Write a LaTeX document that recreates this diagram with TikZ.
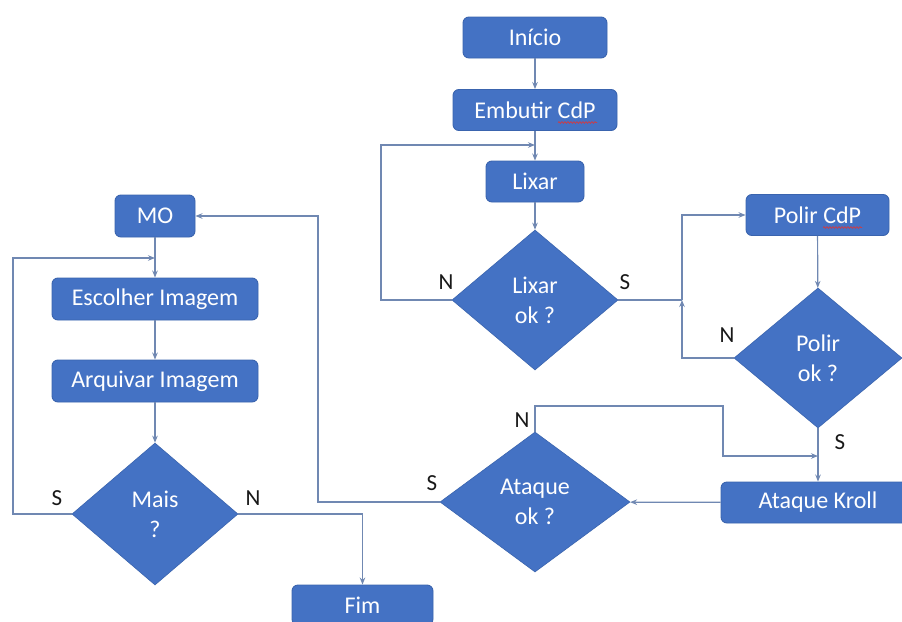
\documentclass[tikz,border=0pt]{standalone}
\usepackage{fontspec}
\setmainfont{Carlito}
\usetikzlibrary{shapes.geometric,arrows.meta,decorations.pathmorphing}
\definecolor{boxfill}{HTML}{4472C4}
\definecolor{boxedge}{HTML}{3A64AE}
\definecolor{wire}{RGB}{112,136,178}
\definecolor{lbl}{RGB}{25,25,25}
\definecolor{squiggle}{RGB}{205,60,70}
\begin{document}
\begin{tikzpicture}[x=1pt,y=-1pt,
  proc/.style={draw=boxedge,line width=0.9pt,fill=boxfill,rounded corners=6pt,
    text=white,font=\fontsize{24}{29}\selectfont,inner sep=0pt,
    minimum height=41pt},
  decide/.style={diamond,draw=boxedge,line width=0.6pt,fill=boxfill,text=white,
    font=\fontsize{24}{30}\selectfont,align=center,inner sep=0pt},
  flow/.style={draw=wire,line width=1.2pt,-{Stealth[length=7pt,width=5.5pt]}},
  link/.style={draw=wire,line width=1.2pt},
  yn/.style={text=lbl,font=\fontsize{23}{23}\selectfont,inner sep=0pt},
  spell/.style={draw=squiggle,line width=0.7pt,
    decorate,decoration={snake,amplitude=0.9pt,segment length=3pt}}]

\useasboundingbox (0,0) rectangle (902,621);
\clip (0,0) rectangle (902,621);
\fill[white] (0,0) rectangle (902,621);

% preparation column
\node[proc,minimum width=144pt] (inicio)  at (535,37.5) {Início};
\node[proc,minimum width=164pt] (embutir) at (535,110)  {Embutir CdP};
\node[proc,minimum width=98pt]  (lixar)   at (535,181.5){Lixar};
\node[decide,minimum width=166pt,minimum height=140pt] (lixarok) at (535,300) {Lixar\\ok ?};

% polishing column
\node[proc,minimum width=143pt] (polir)   at (817.5,215) {Polir CdP};
\node[decide,minimum width=168pt,minimum height=140pt] (polirok) at (818,358) {Polir\\ok ?};
\node[proc,minimum width=194pt] (kroll)   at (818,502.5) {Ataque Kroll};
\node[decide,minimum width=190pt,minimum height=140pt] (ataqueok) at (535,502) {Ataque\\ok ?};

% microscopy column
\node[proc,minimum width=80pt,minimum height=42pt]  (mo)       at (155,216) {MO};
\node[proc,minimum width=206pt,minimum height=42pt] (escolher) at (155,299) {Escolher Imagem};
\node[proc,minimum width=206pt,minimum height=42pt] (arquivar) at (155,381) {Arquivar Imagem};
\node[decide,minimum width=166pt,minimum height=142pt] (mais) at (155,514) {Mais\\?};
\node[proc,minimum width=141pt,minimum height=40pt] (fim) at (362.5,605) {Fim};

% spell-check underlines beneath "CdP"
\draw[spell] (558,122.5) -- (597,122.5);
\draw[spell] (823,227.5) -- (862,227.5);

% bend points of the loops
\coordinate (lxL) at (381,145);
\coordinate (lxJ) at (535,145);
\coordinate (pj)  at (682,300);
\coordinate (akA) at (723,406);
\coordinate (akJ) at (818,456);
\coordinate (moR) at (318,216);
\coordinate (mxL) at (13,258);
\coordinate (mxJ) at (155,258);

% straight flow
\draw[flow] (inicio) -- (embutir);
\draw[flow] (embutir) -- (lixar);
\draw[flow] (lixar) -- (lixarok);
\draw[flow] (polir) -- (polirok);
\draw[flow] (polirok) -- (kroll);
\draw[flow] (kroll) -- (ataqueok);
\draw[flow] (mo) -- (escolher);
\draw[flow] (escolher) -- (arquivar);
\draw[flow] (arquivar) -- (mais);

% loops and branches
\draw[flow] (lixarok.west) -| (lxL) -- (lxJ);
\draw[link] (lixarok.east) -- (pj);
\draw[flow] (polirok.west) -| (pj);
\draw[flow] (pj) |- (polir.west);
\draw[flow] (ataqueok.north) |- (akA) |- (akJ);
\draw[flow] (ataqueok.west) -| (moR) -- (mo.east);
\draw[flow] (mais.west) -| (mxL) -- (mxJ);
\draw[flow] (mais.east) -| (fim.north);

% branch labels
\node[yn] (l1) at (446,282) {N};
\node[yn] (l2) at (625,282) {S};
\node[yn] (l3) at (727,335) {N};
\node[yn] (l4) at (840,442) {S};
\node[yn] (l5) at (522,420) {N};
\node[yn] (l6) at (432,483) {S};
\node[yn] (l7) at (57,498)  {S};
\node[yn] (l8) at (253,498) {N};
\end{tikzpicture}
\end{document}
